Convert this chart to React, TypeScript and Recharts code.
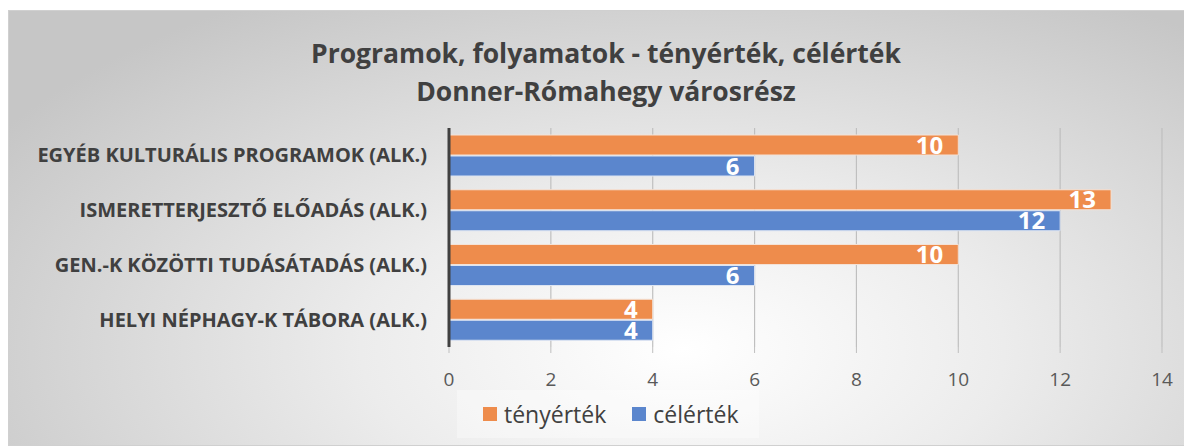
import { BarChart, Bar, XAxis, YAxis, CartesianGrid, LabelList } from 'recharts';

const categories = [
  'EGYÉB KULTURÁLIS PROGRAMOK (ALK.)',
  'ISMERETTERJESZTŐ ELŐADÁS (ALK.)',
  'GEN.-K KÖZÖTTI TUDÁSÁTADÁS (ALK.)',
  'HELYI NÉPHAGY-K TÁBORA (ALK.)',
];
const tenyertek = [10, 13, 10, 4];
const celertek = [6, 12, 6, 4];
const xTicks = [0, 2, 4, 6, 8, 10, 12, 14];

const titleLines = ['Programok, folyamatok - tényérték, célérték', 'Donner-Rómahegy városrész'];

const ORANGE = '#EE8C4C';
const BLUE = '#5B86CD';
const FONT = '"Open Sans", sans-serif';

const data = categories.map((name, i) => ({
  name,
  tenyertek: tenyertek[i],
  celertek: celertek[i],
}));

function LegendBox() {
  const items = [
    { label: 'tényérték', color: ORANGE },
    { label: 'célérték', color: BLUE },
  ];
  return (
    <div
      style={{
        position: 'absolute',
        left: 448,
        top: 379,
        width: 302,
        height: 48,
        background: 'rgba(255,255,255,0.35)',
        display: 'flex',
        alignItems: 'center',
        paddingLeft: 26,
        boxSizing: 'border-box',
        gap: 26,
        fontFamily: FONT,
        fontSize: 23,
        color: '#404040',
      }}
    >
      {items.map((it) => (
        <div key={it.label} style={{ display: 'flex', alignItems: 'center', gap: 7 }}>
          <div style={{ width: 14, height: 14, background: it.color }} />
          <span>{it.label}</span>
        </div>
      ))}
    </div>
  );
}

export default function App() {
  return (
    <div
      style={{
        position: 'relative',
        width: 1184,
        height: 436,
        marginTop: 2,
        boxSizing: 'border-box',
        border: '1px solid #d0d0d0',
        background: 'radial-gradient(ellipse 68% 95% at 57% 78%, #ffffff 0%, #ececec 40%, #c6c6c6 100%)',
        fontFamily: FONT,
      }}
    >
      <div
        style={{
          position: 'absolute',
          left: 5,
          top: 23,
          width: 1184,
          textAlign: 'center',
          fontWeight: 700,
          fontSize: 26.5,
          lineHeight: '38px',
          color: '#404040',
        }}
      >
        {titleLines.map((t) => (
          <div key={t}>{t}</div>
        ))}
      </div>
      <BarChart
        width={1182}
        height={434}
        data={data}
        layout="vertical"
        margin={{ top: 117, right: 29, bottom: 48, left: 0 }}
        barCategoryGap={7}
        barGap={1}
        style={{ position: 'absolute', left: 0, top: 0 }}
      >
        <CartesianGrid horizontal={false} stroke="#bfbfbf" strokeWidth={1.2} />
        <XAxis
          type="number"
          domain={[0, 14]}
          ticks={xTicks}
          axisLine={false}
          tickLine={{ stroke: '#bfbfbf' }}
          tickSize={6}
          height={50}
          tick={{ fill: '#595959', fontSize: 19, fontFamily: FONT }}
          tickMargin={20}
        />
        <YAxis
          type="category"
          dataKey="name"
          width={440}
          axisLine={{ stroke: '#404040', strokeWidth: 3 }}
          tickLine={false}
          tickMargin={16}
          tick={{ fill: '#404040', fontSize: 20, fontWeight: 700, fontFamily: FONT }}
        />
        <Bar dataKey="tenyertek" name="tényérték" fill={ORANGE} stroke="#f4e2d6" strokeWidth={1} isAnimationActive={false}>
          <LabelList dataKey="tenyertek" position="insideRight" offset={15} fill="#ffffff" fontSize={24} fontWeight={700} fontFamily={FONT} />
        </Bar>
        <Bar dataKey="celertek" name="célérték" fill={BLUE} stroke="#dce4f2" strokeWidth={1} isAnimationActive={false}>
          <LabelList dataKey="celertek" position="insideRight" offset={15} fill="#ffffff" fontSize={24} fontWeight={700} fontFamily={FONT} />
        </Bar>
      </BarChart>
      <LegendBox />
    </div>
  );
}
